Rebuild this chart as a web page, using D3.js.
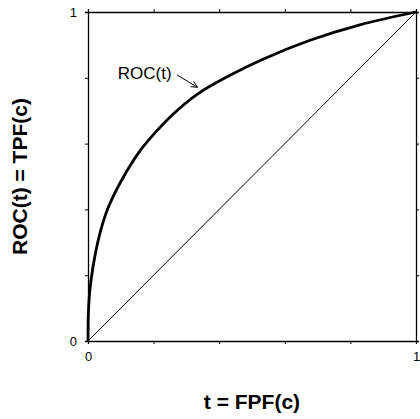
<!DOCTYPE html>
<html>
<head>
<meta charset="utf-8">
<script src="https://cdn.jsdelivr.net/npm/d3@7"></script>
<style>
  body { margin: 0; background: #fff; }
  text { font-family: "Liberation Sans", Arial, sans-serif; fill: #000; }
</style>
</head>
<body>
<script>
// ROC curve
var fpf = [0, 0.0003, 0.001, 0.004, 0.009, 0.021, 0.039, 0.061, 0.102, 0.16, 0.2, 0.26, 0.336, 0.43, 0.53, 0.677, 0.829, 1];
var tpf = [0, 0.042, 0.08, 0.135, 0.183, 0.258, 0.337, 0.404, 0.488, 0.58, 0.628, 0.69, 0.752, 0.806, 0.855, 0.914, 0.961, 1];
var chance = [0, 1];
var tickVals = [0, 0.2, 0.4, 0.6, 0.8, 1];
var tickLabels = {0: "0", 1: "1"};

var width = 420, height = 419;
var margin = {left: 88, right: 4, top: 12, bottom: 78};

var svg = d3.select("body").append("svg")
    .attr("width", width)
    .attr("height", height);

var x = d3.scaleLinear().domain([0, 1]).range([margin.left, width - margin.right]);
var y = d3.scaleLinear().domain([0, 1]).range([height - margin.bottom, margin.top]);

function fmt(d) { return tickLabels[d] || ""; }

// axes on all four sides, small outward ticks
var axes = [
    {ax: d3.axisBottom(x), t: "translate(0," + y(0) + ")", lab: true},
    {ax: d3.axisTop(x), t: "translate(0," + y(1) + ")", lab: false},
    {ax: d3.axisLeft(y), t: "translate(" + x(0) + ",0)", lab: true},
    {ax: d3.axisRight(y), t: "translate(" + x(1) + ",0)", lab: false}
];
axes.forEach(function(a) {
    var g = svg.append("g")
        .attr("transform", a.t)
        .call(a.ax.tickValues(tickVals).tickSize(3).tickPadding(8)
            .tickFormat(a.lab ? fmt : function() { return ""; }));
    g.select(".domain").attr("stroke", "#000").attr("stroke-width", 1.3);
    g.selectAll(".tick line").attr("stroke", "#000");
    g.selectAll(".tick text").style("font-size", "13px").attr("fill", "#000");
});

// chance diagonal
svg.append("line")
    .attr("x1", x(chance[0])).attr("y1", y(chance[0]))
    .attr("x2", x(chance[1])).attr("y2", y(chance[1]))
    .attr("stroke", "#000")
    .attr("stroke-width", 1);

// ROC curve
var line = d3.line()
    .x(function(d) { return x(d[0]); })
    .y(function(d) { return y(d[1]); })
    .curve(d3.curveCatmullRom.alpha(0.5));

svg.append("path")
    .datum(d3.zip(fpf, tpf))
    .attr("d", line)
    .attr("fill", "none")
    .attr("stroke", "#000")
    .attr("stroke-width", 2.8);

// annotation
svg.append("text")
    .attr("x", x(0.091))
    .attr("y", y(0.796))
    .style("font-size", "17px")
    .text("ROC(t)");

var a0 = [x(0.271), y(0.809)], a1 = [x(0.334), y(0.771)];
svg.append("line")
    .attr("x1", a0[0]).attr("y1", a0[1])
    .attr("x2", a1[0]).attr("y2", a1[1])
    .attr("stroke", "#000").attr("stroke-width", 1);
var ang = Math.atan2(a1[1] - a0[1], a1[0] - a0[0]);
[-0.45, 0.45].forEach(function(da) {
    svg.append("line")
        .attr("x1", a1[0]).attr("y1", a1[1])
        .attr("x2", a1[0] - 7 * Math.cos(ang + da))
        .attr("y2", a1[1] - 7 * Math.sin(ang + da))
        .attr("stroke", "#000").attr("stroke-width", 1);
});

// axis titles
svg.append("text")
    .attr("x", (x(0) + x(1)) / 2)
    .attr("y", 409)
    .attr("text-anchor", "middle")
    .style("font-size", "21px")
    .style("font-weight", "bold")
    .text("t = FPF(c)");

svg.append("text")
    .attr("transform", "translate(27," + (y(0) + y(1)) / 2 + ") rotate(-90)")
    .attr("text-anchor", "middle")
    .style("font-size", "21px")
    .style("font-weight", "bold")
    .text("ROC(t) = TPF(c)");
</script>
</body>
</html>
